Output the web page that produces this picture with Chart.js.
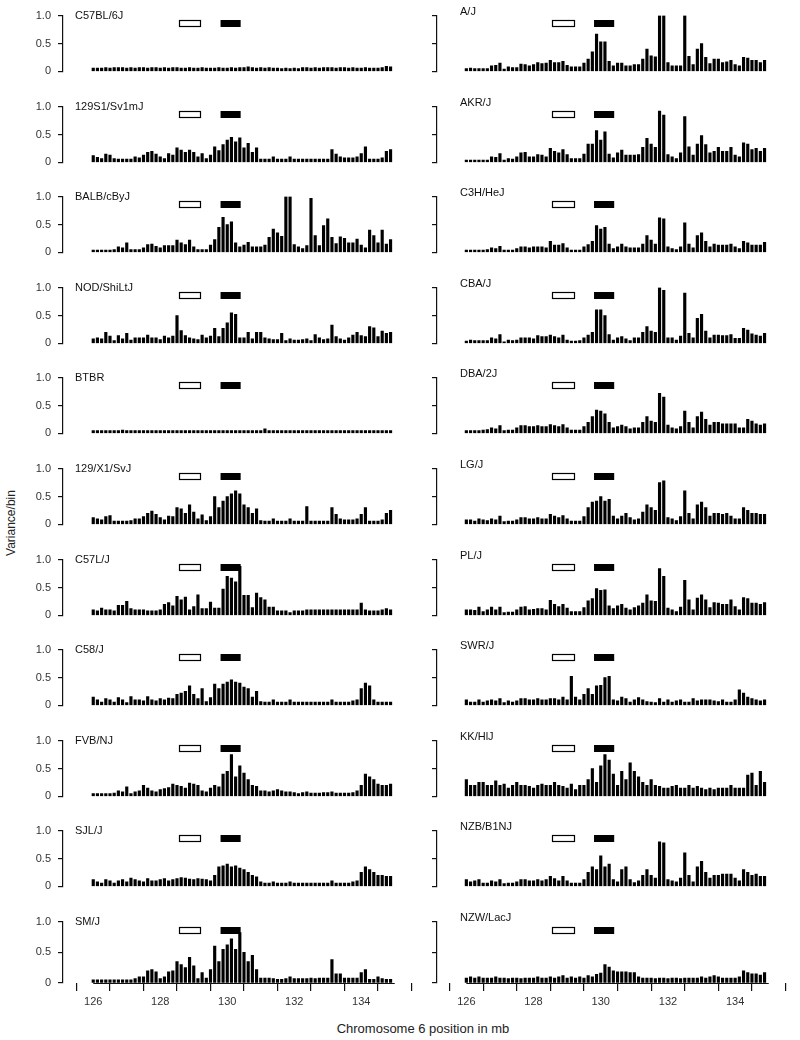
<!DOCTYPE html>
<html>
<head>
<meta charset="utf-8">
<script src="https://cdn.jsdelivr.net/npm/chart.js@4.4.1/dist/chart.umd.min.js"></script>
<style>
  body { margin: 0; background: #fff; }
  #page { position: relative; width: 800px; height: 1040px; overflow: hidden; font-family: "Liberation Sans", Arial, sans-serif; color: #222; }
  #page canvas { position: absolute; }
  .xtitle { position: absolute; left: 0; width: 846px; top: 1021px; text-align: center; font-size: 13px; }
  .ytitle { position: absolute; left: -34px; top: 516px; width: 90px; text-align: center; font-size: 12px; transform: rotate(-90deg); }
</style>
</head>
<body>
<div id="page">
  <div class="xtitle">Chromosome 6 position in mb</div>
  <div class="ytitle">Variance/bin</div>
</div>
<script>
// bins: 125 kb wide starting at 126 mb
const binStart = 126;
const binSize = 0.125;
const xTicks = [126, 127, 128, 129, 130, 131, 132, 133, 134, 135];
const yTicks = [0, 0.25, 0.5, 0.75, 1];
const yLabels = { 0: "0", 0.5: "0.5", 1: "1.0" };
const openBox = [128.55, 129.2];
const filledBox = [129.8, 130.4];
const boxLevels = [0.82, 0.92];

const c57bl6j = [
  .06,.06,.06,.07,.06,.07,.07,.07,.06,.07,.06,.07,
  .07,.06,.07,.07,.06,.07,.06,.07,.07,.06,.06,.07,
  .06,.06,.07,.06,.06,.06,.07,.06,.06,.07,.06,.07,
  .07,.08,.07,.06,.07,.06,.07,.06,.06,.05,.06,.05,
  .06,.05,.07,.07,.06,.07,.06,.07,.07,.07,.06,.07,
  .07,.06,.07,.06,.06,.07,.06,.06,.06,.07,.09,.08];
const s129s1 = [
  .12,.09,.07,.15,.13,.07,.06,.06,.06,.06,.10,.08,
  .13,.18,.20,.15,.10,.07,.16,.13,.26,.22,.18,.22,
  .18,.10,.16,.07,.13,.28,.21,.32,.40,.45,.37,.44,
  .26,.34,.18,.26,.06,.06,.06,.10,.06,.06,.06,.10,
  .06,.06,.06,.06,.06,.06,.06,.06,.06,.23,.15,.10,
  .08,.08,.08,.10,.16,.28,.06,.06,.06,.08,.20,.23];
const balb = [
  .04,.04,.04,.04,.04,.05,.10,.08,.17,.05,.05,.05,
  .08,.14,.15,.11,.08,.12,.12,.12,.22,.17,.14,.22,
  .10,.05,.05,.05,.13,.23,.45,.63,.50,.55,.17,.10,
  .13,.18,.10,.10,.10,.13,.27,.42,.35,.29,1.0,1.0,
  .14,.10,.07,.12,.97,.30,.12,.48,.60,.27,.16,.28,
  .25,.17,.17,.24,.13,.08,.40,.30,.17,.40,.15,.23];
const nod = [
  .08,.10,.08,.20,.13,.05,.14,.08,.18,.06,.10,.10,
  .10,.15,.10,.10,.07,.13,.10,.13,.50,.23,.14,.10,
  .08,.07,.15,.10,.13,.27,.12,.27,.37,.55,.52,.10,
  .10,.20,.08,.20,.20,.10,.08,.07,.07,.18,.05,.08,
  .06,.06,.07,.08,.05,.16,.10,.07,.08,.33,.12,.08,
  .06,.10,.15,.20,.14,.12,.30,.28,.12,.22,.18,.20];
const btbr = [
  .05,.05,.05,.05,.05,.05,.05,.06,.05,.05,.05,.05,
  .05,.05,.05,.05,.05,.05,.05,.05,.05,.05,.05,.05,
  .05,.05,.05,.05,.05,.05,.05,.05,.05,.05,.05,.05,
  .05,.05,.05,.05,.05,.08,.05,.05,.05,.05,.05,.05,
  .05,.05,.05,.05,.05,.05,.05,.05,.05,.05,.05,.05,
  .05,.05,.05,.05,.05,.05,.05,.05,.05,.05,.05,.05];
const x1 = [
  .12,.10,.08,.14,.16,.06,.06,.06,.06,.07,.10,.10,
  .14,.20,.24,.18,.12,.08,.15,.14,.30,.28,.20,.35,
  .22,.10,.17,.07,.14,.50,.30,.42,.50,.55,.60,.55,
  .35,.30,.20,.28,.07,.06,.06,.10,.06,.06,.06,.10,
  .06,.06,.06,.32,.06,.06,.06,.06,.06,.30,.18,.10,
  .08,.08,.08,.10,.18,.30,.06,.06,.06,.08,.20,.25];
const c57l = [
  .10,.08,.13,.10,.10,.08,.18,.18,.25,.12,.10,.10,
  .10,.08,.08,.08,.10,.20,.23,.17,.34,.28,.33,.10,
  .16,.37,.12,.12,.24,.13,.13,.47,.70,.67,.60,.88,
  .36,.36,.14,.40,.32,.28,.15,.15,.08,.08,.08,.05,
  .08,.08,.08,.10,.10,.10,.10,.10,.10,.10,.10,.10,
  .10,.10,.10,.10,.22,.10,.08,.08,.08,.10,.12,.10];
const c58 = [
  .15,.10,.06,.12,.10,.06,.14,.10,.05,.16,.10,.10,
  .08,.16,.10,.08,.12,.10,.13,.12,.20,.22,.25,.35,
  .20,.12,.30,.07,.14,.38,.30,.38,.42,.46,.42,.40,
  .33,.30,.15,.25,.07,.06,.06,.10,.06,.06,.06,.10,
  .06,.06,.06,.06,.06,.06,.06,.06,.06,.10,.06,.06,
  .06,.06,.08,.10,.30,.40,.35,.10,.06,.06,.06,.06];
const fvb = [
  .05,.05,.05,.05,.05,.06,.10,.08,.17,.05,.08,.10,
  .20,.15,.10,.08,.12,.14,.16,.22,.20,.18,.15,.24,
  .22,.20,.10,.08,.15,.20,.17,.40,.45,.75,.35,.55,
  .42,.30,.20,.18,.10,.10,.08,.10,.12,.10,.08,.08,
  .07,.05,.07,.08,.06,.06,.06,.07,.07,.08,.06,.06,
  .06,.06,.07,.10,.20,.40,.35,.30,.22,.20,.20,.22];
const sjl = [
  .12,.08,.06,.12,.10,.06,.10,.12,.08,.15,.12,.10,
  .08,.14,.10,.10,.12,.14,.10,.12,.14,.16,.15,.13,
  .12,.14,.13,.12,.10,.20,.35,.37,.40,.35,.37,.33,
  .30,.25,.20,.17,.08,.06,.06,.08,.06,.06,.06,.08,
  .06,.06,.06,.06,.06,.06,.06,.06,.06,.10,.06,.06,
  .06,.06,.08,.10,.25,.35,.30,.25,.20,.20,.18,.18];
const sm = [
  .05,.05,.05,.05,.05,.05,.05,.05,.05,.05,.07,.10,
  .10,.20,.22,.18,.07,.10,.18,.20,.35,.30,.25,.42,
  .28,.07,.17,.08,.22,.60,.35,.55,.62,.72,.55,.82,
  .50,.35,.45,.22,.08,.08,.08,.07,.06,.06,.07,.10,
  .07,.07,.07,.07,.08,.07,.08,.08,.08,.38,.15,.15,
  .08,.08,.08,.08,.17,.22,.06,.06,.10,.07,.06,.06];

const aj = [
  .05,.06,.05,.05,.05,.05,.10,.11,.15,.04,.08,.07,
  .07,.13,.12,.10,.12,.16,.14,.15,.20,.16,.16,.18,
  .11,.08,.08,.08,.15,.22,.35,.67,.53,.53,.18,.10,
  .15,.15,.10,.10,.12,.12,.22,.40,.28,.26,1.0,1.0,
  .16,.10,.10,.10,1.0,.27,.12,.40,.50,.25,.14,.22,
  .22,.16,.17,.20,.12,.10,.25,.24,.20,.20,.16,.20];
const akr = [
  .04,.04,.04,.04,.04,.04,.10,.09,.16,.04,.07,.06,
  .10,.17,.18,.10,.10,.14,.13,.10,.25,.20,.17,.23,
  .14,.07,.07,.07,.15,.33,.33,.57,.40,.55,.15,.08,
  .17,.22,.13,.13,.13,.14,.27,.43,.33,.27,.92,.85,
  .14,.10,.07,.17,.82,.28,.13,.33,.48,.32,.17,.20,
  .27,.20,.20,.27,.13,.10,.35,.33,.23,.25,.20,.25];
const c3h = [
  .04,.04,.04,.04,.04,.05,.08,.07,.11,.04,.04,.04,
  .07,.10,.10,.08,.10,.10,.10,.08,.20,.13,.13,.16,
  .08,.04,.04,.04,.10,.14,.20,.48,.42,.45,.15,.07,
  .10,.15,.10,.08,.08,.08,.15,.30,.22,.15,.62,.60,
  .10,.07,.05,.10,.53,.15,.08,.30,.35,.20,.10,.15,
  .13,.13,.13,.15,.10,.07,.20,.17,.13,.13,.13,.18];
const cba = [
  .04,.06,.05,.05,.05,.05,.10,.08,.16,.03,.06,.05,
  .06,.10,.10,.10,.08,.14,.12,.12,.15,.12,.10,.15,
  .06,.04,.04,.05,.10,.15,.20,.60,.60,.50,.16,.06,
  .10,.12,.08,.05,.10,.10,.20,.30,.22,.20,1.0,.95,
  .10,.10,.06,.13,.90,.18,.10,.45,.52,.22,.10,.15,
  .15,.14,.14,.16,.09,.09,.27,.24,.17,.15,.13,.18];
const dba = [
  .05,.05,.05,.05,.06,.07,.10,.08,.14,.05,.06,.06,
  .10,.14,.14,.12,.12,.14,.12,.12,.16,.14,.12,.16,
  .10,.06,.06,.06,.12,.20,.30,.42,.40,.35,.20,.10,
  .12,.15,.12,.08,.10,.10,.20,.30,.22,.20,.72,.65,
  .15,.10,.08,.12,.40,.20,.10,.30,.38,.25,.15,.20,
  .20,.17,.17,.17,.17,.10,.10,.25,.22,.17,.15,.17];
const lg = [
  .08,.08,.06,.10,.08,.07,.10,.08,.15,.05,.06,.06,
  .08,.12,.12,.10,.10,.12,.10,.10,.18,.15,.12,.16,
  .10,.06,.06,.06,.14,.30,.40,.42,.50,.42,.45,.15,
  .10,.15,.20,.12,.08,.10,.22,.35,.30,.25,.75,.78,
  .12,.10,.07,.14,.60,.20,.10,.35,.40,.30,.15,.20,
  .20,.18,.20,.15,.10,.10,.30,.25,.20,.20,.18,.18];
const pl = [
  .10,.10,.09,.15,.07,.10,.15,.10,.15,.05,.06,.06,
  .10,.15,.16,.10,.11,.12,.12,.10,.27,.20,.16,.20,
  .13,.07,.07,.07,.14,.26,.30,.48,.45,.46,.17,.12,
  .17,.20,.13,.10,.14,.17,.22,.37,.26,.25,.84,.70,
  .13,.10,.07,.15,.63,.28,.10,.31,.37,.28,.14,.23,
  .22,.20,.20,.28,.16,.10,.32,.30,.22,.22,.20,.23];
const swr = [
  .10,.06,.06,.10,.06,.08,.10,.08,.12,.05,.08,.06,
  .08,.12,.12,.10,.10,.12,.10,.10,.12,.12,.10,.15,
  .10,.52,.15,.10,.20,.30,.20,.35,.36,.50,.52,.10,
  .08,.15,.12,.06,.10,.14,.10,.07,.06,.05,.12,.06,
  .10,.06,.08,.10,.06,.06,.12,.08,.10,.10,.10,.08,
  .07,.10,.06,.06,.10,.28,.22,.15,.12,.10,.08,.10];
const kk = [
  .30,.20,.20,.25,.25,.20,.20,.28,.20,.22,.15,.20,
  .25,.20,.20,.18,.15,.20,.22,.20,.20,.25,.20,.18,
  .15,.22,.12,.20,.20,.30,.50,.25,.55,.75,.65,.40,
  .20,.45,.30,.60,.45,.35,.25,.20,.30,.20,.18,.15,
  .15,.18,.20,.15,.15,.20,.15,.18,.15,.12,.15,.12,
  .15,.15,.15,.20,.15,.15,.15,.38,.42,.20,.45,.25];
const nzb = [
  .12,.08,.10,.12,.06,.06,.10,.08,.12,.05,.06,.06,
  .08,.12,.12,.10,.10,.12,.10,.12,.18,.14,.10,.18,
  .10,.06,.06,.06,.12,.25,.35,.30,.55,.35,.40,.12,
  .08,.30,.35,.12,.07,.10,.20,.30,.20,.15,.80,.78,
  .12,.10,.08,.15,.60,.20,.08,.35,.45,.25,.15,.20,
  .20,.22,.22,.22,.15,.10,.30,.25,.20,.22,.18,.18];
const nzw = [
  .08,.10,.08,.10,.08,.08,.08,.10,.08,.08,.07,.08,
  .08,.07,.08,.08,.08,.10,.08,.08,.10,.08,.10,.12,
  .08,.10,.08,.10,.08,.12,.10,.14,.16,.30,.26,.20,
  .18,.18,.18,.17,.17,.10,.08,.08,.08,.07,.08,.08,
  .07,.08,.08,.07,.08,.08,.08,.08,.10,.08,.10,.12,
  .10,.08,.08,.08,.08,.10,.20,.17,.15,.15,.13,.17];

const leftStrains = [
  ["C57BL/6J", c57bl6j], ["129S1/Sv1mJ", s129s1], ["BALB/cByJ", balb], ["NOD/ShiLtJ", nod],
  ["BTBR", btbr], ["129/X1/SvJ", x1], ["C57L/J", c57l], ["C58/J", c58],
  ["FVB/NJ", fvb], ["SJL/J", sjl], ["SM/J", sm]
];
const rightStrains = [
  ["A/J", aj], ["AKR/J", akr], ["C3H/HeJ", c3h], ["CBA/J", cba],
  ["DBA/2J", dba], ["LG/J", lg], ["PL/J", pl], ["SWR/J", swr],
  ["KK/HlJ", kk], ["NZB/B1NJ", nzb], ["NZW/LacJ", nzw]
];

// layout of the grid (pixels)
const fontFamily = '"Liberation Sans", Arial, sans-serif';
const firstZero = 77, rowPitch = 90.6, plotHeight = 63;
const padTop = 12, padBottom = 8, xAxisHeight = 34, axisWidth = 63, areaRight = 416;
const columns = [
  { left: 0, width: 420, x126: 77, x135: 412, labelX: 75, labelDy: 0 },
  { left: 374, width: 426, x126: 76, x135: 412, labelX: 86, labelDy: -4 }
];

const panelDeco = {
  id: "panelDeco",
  beforeDatasetsDraw(chart, args, opts) {
    const { ctx, scales: { x, y } } = chart;
    const top = Math.round(y.getPixelForValue(boxLevels[1])) + 0.5;
    const bottom = Math.round(y.getPixelForValue(boxLevels[0])) + 0.5;
    ctx.save();
    let a = Math.round(x.getPixelForValue(openBox[0])) + 0.5;
    let b = Math.round(x.getPixelForValue(openBox[1])) + 0.5;
    ctx.fillStyle = "#fff";
    ctx.strokeStyle = "#000";
    ctx.lineWidth = 1.2;
    ctx.fillRect(a, top, b - a, bottom - top);
    ctx.strokeRect(a, top, b - a, bottom - top);
    a = x.getPixelForValue(filledBox[0]);
    b = x.getPixelForValue(filledBox[1]);
    ctx.fillStyle = "#000";
    ctx.fillRect(a, top - 0.5, b - a, bottom - top + 1);
    ctx.restore();
  },
  afterDraw(chart, args, opts) {
    const { ctx, scales: { x, y } } = chart;
    ctx.save();
    ctx.fillStyle = "#111";
    ctx.font = "11px " + fontFamily;
    ctx.textBaseline = "middle";
    ctx.fillText(opts.name, opts.labelX, y.getPixelForValue(1) + opts.labelDy);
    if (opts.last) {
      const yy = chart.chartArea.bottom + 0.5;
      ctx.strokeStyle = "#111";
      ctx.lineWidth = 1.2;
      ctx.beginPath();
      ctx.moveTo(x.getPixelForValue(126), yy);
      ctx.lineTo(x.getPixelForValue(135), yy);
      ctx.stroke();
    }
    ctx.restore();
  }
};

function makePanel(col, row, name, values) {
  const c = columns[col];
  const last = row === 10;
  const ppm = (c.x135 - c.x126) / 9;
  const height = padTop + plotHeight + (last ? xAxisHeight : padBottom);
  const canvas = document.createElement("canvas");
  canvas.width = c.width;
  canvas.height = height;
  canvas.style.left = c.left + "px";
  canvas.style.top = (Math.round(firstZero + row * rowPitch) - plotHeight - padTop) + "px";
  document.getElementById("page").appendChild(canvas);

  new Chart(canvas, {
    type: "bar",
    data: {
      datasets: [{
        data: values.map((v, i) => ({ x: binStart + i * binSize, y: v })),
        backgroundColor: "#000",
        barThickness: 2.5
      }]
    },
    options: {
      responsive: false,
      animation: false,
      devicePixelRatio: 1,
      events: [],
      layout: { padding: { top: padTop, bottom: last ? 0 : padBottom, left: 0, right: c.width - areaRight } },
      plugins: {
        legend: { display: false },
        tooltip: { enabled: false },
        panelDeco: { name: name, labelX: c.labelX, labelDy: c.labelDy, last: last }
      },
      scales: {
        x: {
          type: "linear",
          display: last,
          min: 126 - (c.x126 - axisWidth) / ppm,
          max: 135 + (areaRight - c.x135) / ppm,
          afterBuildTicks: s => { s.ticks = xTicks.map(v => ({ value: v })); },
          afterFit: s => { s.height = last ? xAxisHeight : 0; },
          grid: { drawOnChartArea: false, tickLength: 8, color: "#111", lineWidth: 1.2 },
          border: { display: false },
          ticks: {
            autoSkip: false, maxRotation: 0, padding: 4, color: "#333",
            font: { size: 11, family: fontFamily },
            callback: v => (v % 2 === 0 ? String(v) : "")
          }
        },
        y: {
          min: 0,
          max: 1,
          afterBuildTicks: s => { s.ticks = yTicks.map(v => ({ value: v })); },
          afterFit: s => { s.width = axisWidth; },
          grid: { drawOnChartArea: false, tickLength: 5, color: "#111", lineWidth: 1.2 },
          border: { display: true, color: "#111", width: 1.2 },
          ticks: {
            padding: 7, color: "#333",
            font: { size: 11, family: fontFamily },
            callback: v => (col === 0 && yLabels[v] !== undefined ? yLabels[v] : "")
          }
        }
      }
    },
    plugins: [panelDeco]
  });
}

leftStrains.forEach(([name, vals], r) => makePanel(0, r, name, vals));
rightStrains.forEach(([name, vals], r) => makePanel(1, r, name, vals));
</script>
</body>
</html>
